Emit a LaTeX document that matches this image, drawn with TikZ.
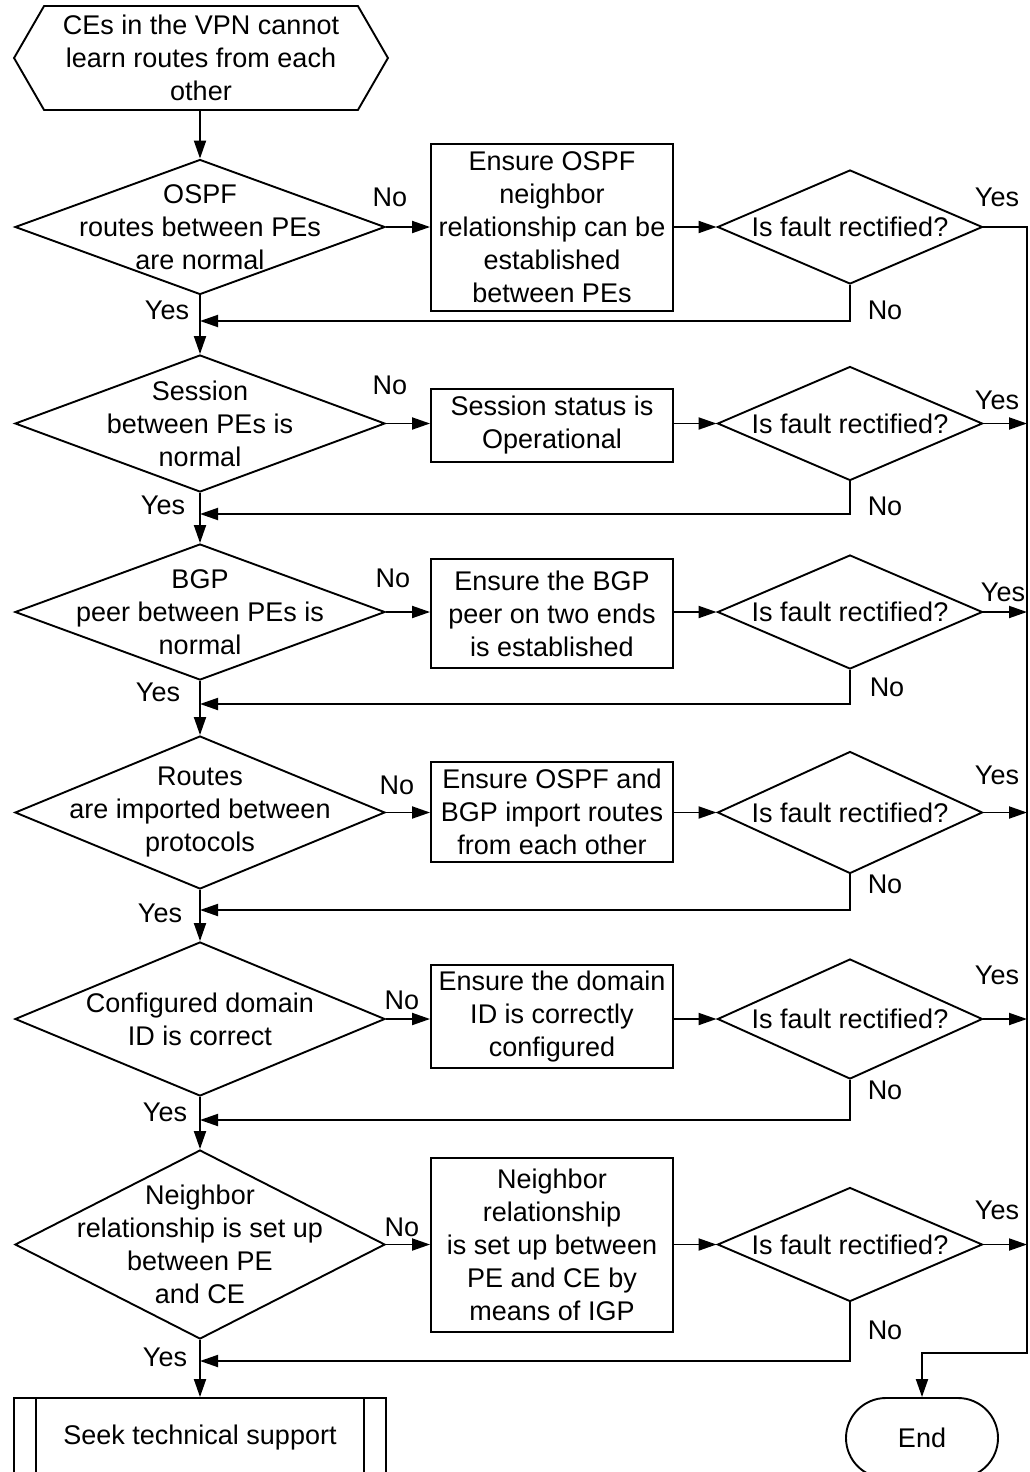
\documentclass[tikz,border=0pt]{standalone}
\usepackage{fontspec}
\setmainfont{Liberation Sans}
\usetikzlibrary{arrows.meta,shapes.geometric,shapes.misc,calc}
\begin{document}
\begin{tikzpicture}[x=1pt,y=-1pt,
  line width=1.9pt,
  every node/.style={font=\fontsize{27}{33}\selectfont, inner sep=0pt},
  arr/.style={-{Triangle[length=18pt,width=12pt]}},
  dec/.style={diamond, draw, inner sep=0pt, minimum width=370pt},
  qdec/.style={diamond, draw, inner sep=0pt, minimum width=265pt},
  act/.style={draw, rectangle, align=center, minimum width=242pt},
  lbl/.style={anchor=center}]
\useasboundingbox (0,0) rectangle (1029,1472);

% start
\node[minimum width=372pt, minimum height=102pt, align=center] (start) at (201,58)
  {CEs in the VPN cannot\\learn routes from each\\other};
\draw (start.west) -- ($(start.north west)+(30,0)$) -- ($(start.north east)+(-30,0)$)
  -- (start.east) -- ($(start.south east)+(-30,0)$) -- ($(start.south west)+(30,0)$) -- cycle;

% decisions (left column)
\node[dec, minimum height=135pt] (d1) at (200,227) {};
\node[align=center] (d1t) at (d1) {OSPF\\routes between PEs\\are normal};
\node[dec, minimum height=137pt] (d2) at (200,423.5) {};
\node[align=center] (d2t) at (d2) {Session\\between PEs is\\normal};
\node[dec, minimum height=136pt] (d3) at (200,612) {};
\node[align=center] (d3t) at (d3) {BGP\\peer between PEs is\\normal};
\node[dec, minimum height=153pt] (d4) at (200,812.5) {};
\node[align=center] (d4t) at (d4) {Routes\\are imported between\\protocols};
\node[dec, minimum height=154pt] (d5) at (200,1019) {};
\node[align=center] (d5t) at (d5) {Configured domain\\ID is correct};
\node[dec, minimum height=189pt] (d6) at (200,1244.5) {};
\node[align=center] (d6t) at (d6) {Neighbor\\relationship is set up\\between PE\\and CE};

% actions
\node[act, minimum height=167pt] (b1) at (552,227.5) {Ensure OSPF\\neighbor\\relationship can be\\established\\between PEs};
\node[act, minimum height=73pt] (b2) at (552,425.5) {Session status is\\Operational};
\node[act, minimum height=109pt] (b3) at (552,613.5) {Ensure the BGP\\peer on two ends\\is established};
\node[act, minimum height=100pt] (b4) at (552,812) {Ensure OSPF and\\BGP import routes\\from each other};
\node[act, minimum height=103pt] (b5) at (552,1016.5) {Ensure the domain\\ID is correctly\\configured};
\node[act, minimum height=174pt] (b6) at (552,1245) {Neighbor\\relationship\\is set up between\\PE and CE by\\means of IGP};

% fault checks
\node[qdec, minimum height=114pt] (q1) at (850,227) {};
\node (q1t) at (q1) {Is fault rectified?};
\node[qdec, minimum height=114pt] (q2) at (850,423.5) {};
\node (q2t) at (q2) {Is fault rectified?};
\node[qdec, minimum height=114pt] (q3) at (850,612) {};
\node (q3t) at (q3) {Is fault rectified?};
\node[qdec, minimum height=122pt] (q4) at (850,812.5) {};
\node (q4t) at (q4) {Is fault rectified?};
\node[qdec, minimum height=120pt] (q5) at (850,1019) {};
\node (q5t) at (q5) {Is fault rectified?};
\node[qdec, minimum height=114pt] (q6) at (850,1244.5) {};
\node (q6t) at (q6) {Is fault rectified?};

% terminals
\node[draw, minimum width=372pt, minimum height=80pt] (seek) at (200,1438) {Seek technical support};
\draw ($(seek.north west)+(23,0)$) -- ($(seek.south west)+(23,0)$);
\draw ($(seek.north east)+(-23,0)$) -- ($(seek.south east)+(-23,0)$);
\node[draw, rounded rectangle, minimum width=152pt, minimum height=80pt] (endn) at (922,1438) {End};

% junction coordinates
\coordinate (j1) at (200,321);
\coordinate (j2) at (200,514);
\coordinate (j3) at (200,704);
\coordinate (j4) at (200,910);
\coordinate (j5) at (200,1120);
\coordinate (j6) at (200,1361);
\coordinate (rb) at (1027,1353);

% main column
\draw[arr] (start.south -| d1.north) -- (d1.north);
\draw[arr] (d1.south) -- (d2.north);
\draw[arr] (d2.south) -- (d3.north);
\draw[arr] (d3.south) -- (d4.north);
\draw[arr] (d4.south) -- (d5.north);
\draw[arr] (d5.south) -- (d6.north);
\draw[arr] (d6.south) -- (seek.north);

% No branches
\foreach \i in {1,...,6}{
  \draw[arr] (d\i.east) -- (d\i.east -| b\i.west);
  \draw[arr] (b\i.east |- q\i.west) -- (q\i.west);
}
% returns
\draw[arr] (q1.south) |- (j1);
\draw[arr] (q2.south) |- (j2);
\draw[arr] (q3.south) |- (j3);
\draw[arr] (q4.south) |- (j4);
\draw[arr] (q5.south) |- (j5);
\draw[arr] (q6.south) |- (j6);

% yes to end
\draw[arr] (q1.east) -- (q1.east -| rb) -- (rb) -| (endn.north);
\draw[arr] (q2.east) -- (q2.east -| rb);
\draw[arr] (q3.east) -- (q3.east -| rb);
\draw[arr] (q4.east) -- (q4.east -| rb);
\draw[arr] (q5.east) -- (q5.east -| rb);
\draw[arr] (q6.east) -- (q6.east -| rb);

% labels left
\node[lbl] (ny1) at (390,197) {No};
\node[lbl] (ny2) at (390,385) {No};
\node[lbl] (ny3) at (393,578) {No};
\node[lbl] (ny4) at (397,785) {No};
\node[lbl] (ny5) at (402,1000) {No};
\node[lbl] (ny6) at (402,1227) {No};
\node[lbl] (yy1) at (167,310) {Yes};
\node[lbl] (yy2) at (163,505) {Yes};
\node[lbl] (yy3) at (158,692) {Yes};
\node[lbl] (yy4) at (160,913) {Yes};
\node[lbl] (yy5) at (165,1112) {Yes};
\node[lbl] (yy6) at (165,1357) {Yes};
% labels right
\node[lbl] (qy1) at (997,197) {Yes};
\node[lbl] (qy2) at (997,400) {Yes};
\node[lbl] (qy3) at (1003,592) {Yes};
\node[lbl] (qy4) at (997,775) {Yes};
\node[lbl] (qy5) at (997,975) {Yes};
\node[lbl] (qy6) at (997,1210) {Yes};
\node[lbl] (qn1) at (885,310) {No};
\node[lbl] (qn2) at (885,506) {No};
\node[lbl] (qn3) at (887,687) {No};
\node[lbl] (qn4) at (885,884) {No};
\node[lbl] (qn5) at (885,1090) {No};
\node[lbl] (qn6) at (885,1330) {No};
\end{tikzpicture}
\end{document}
